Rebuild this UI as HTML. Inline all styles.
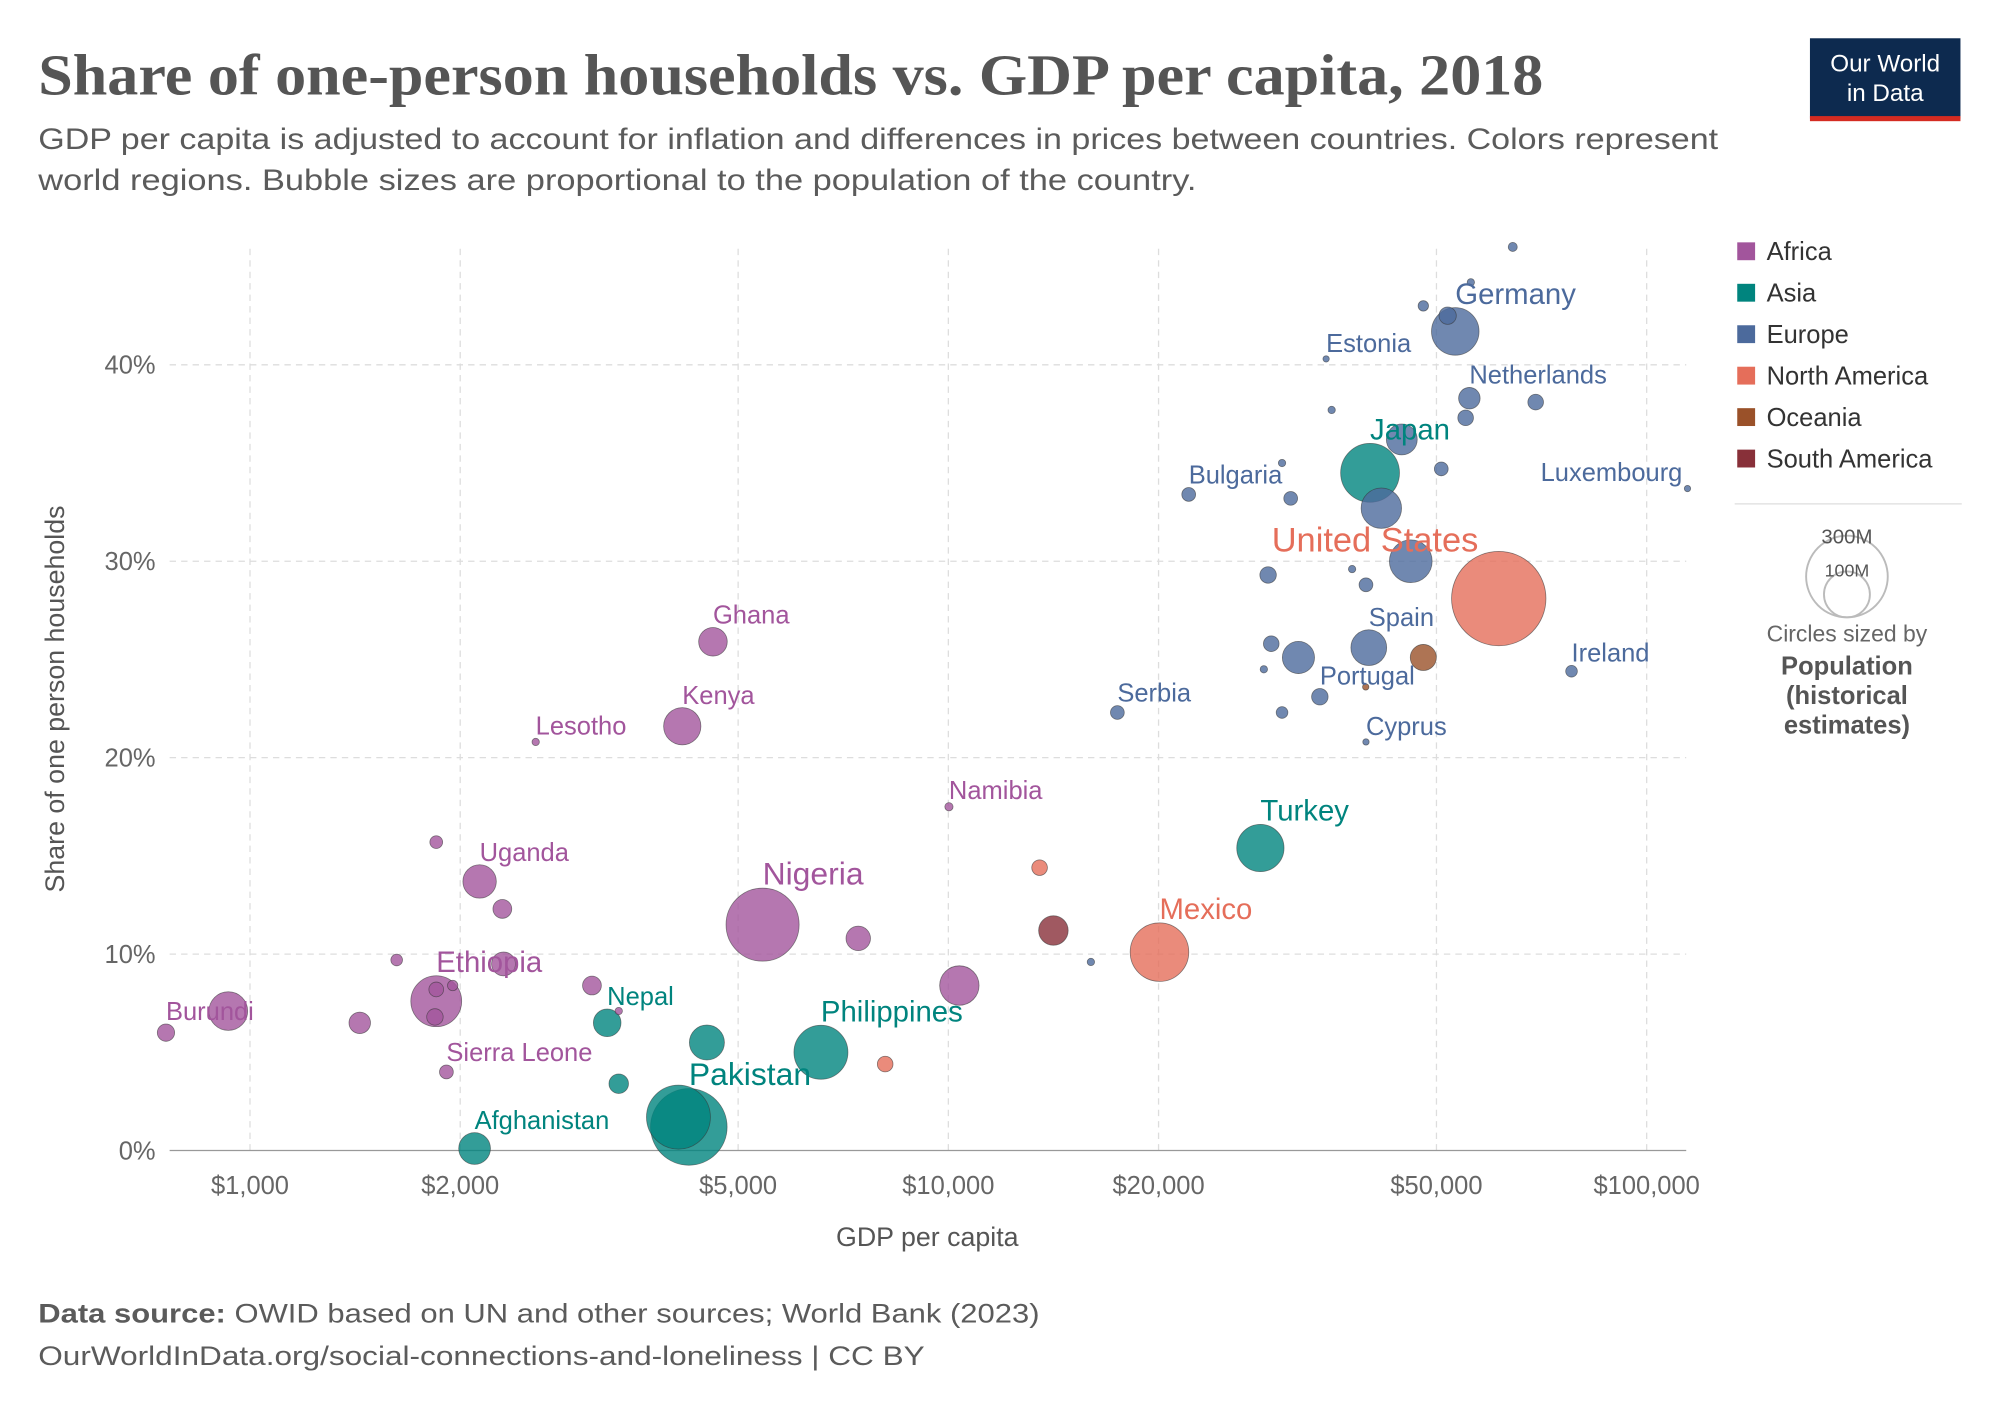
<!DOCTYPE html>
<html><head><meta charset="utf-8">
<style>
html,body{margin:0;padding:0;background:#fff;}
svg{display:block;}
text{font-family:"Liberation Sans",sans-serif;}
</style></head>
<body>
<svg id="chart" width="2000" height="1412" viewBox="0 0 1568 1107" xmlns="http://www.w3.org/2000/svg">
<text x="30" y="74" font-weight="bold" font-size="46" fill="#555" textLength="1180" lengthAdjust="spacingAndGlyphs" style="font-family:'Liberation Serif',serif">Share of one-person households vs. GDP per capita, 2018</text>
<text x="30" y="117" font-size="23" fill="#5b5b5b" textLength="1317" lengthAdjust="spacingAndGlyphs">GDP per capita is adjusted to account for inflation and differences in prices between countries. Colors represent</text>
<text x="30" y="149" font-size="23" fill="#5b5b5b" textLength="908" lengthAdjust="spacingAndGlyphs">world regions. Bubble sizes are proportional to the population of the country.</text>
<g>
<rect x="1419" y="30" width="118" height="63" fill="#0d2a4f"/>
<rect x="1419" y="91" width="118" height="4" fill="#d42b21"/>
<text x="1478" y="56" font-size="19" fill="#fff" text-anchor="middle">Our World</text>
<text x="1478" y="79" font-size="19" fill="#fff" text-anchor="middle">in Data</text>
</g>
<g id="grid"></g>
<g id="axes"></g>
<g id="marks"></g>
<g id="labels"></g>
<text x="727" y="977" font-size="21" fill="#555" text-anchor="middle">GDP per capita</text>
<text transform="translate(50,548) rotate(-90)" font-size="21" fill="#555" text-anchor="middle">Share of one person households</text>
<g id="legend"></g>
<g>
<line x1="1360" y1="395" x2="1538" y2="395" stroke="#ddd"/>
<circle cx="1448" cy="452" r="32" fill="none" stroke="#bbb" stroke-width="1.5"/>
<circle cx="1448" cy="466" r="18" fill="none" stroke="#bbb" stroke-width="1.5"/>
<text x="1448" y="426" font-size="16" fill="#555" text-anchor="middle">300M</text>
<text x="1448" y="452" font-size="14" fill="#555" text-anchor="middle">100M</text>
<text x="1448" y="503" font-size="18" fill="#666" text-anchor="middle">Circles sized by</text>
<text x="1448" y="529" font-size="20" fill="#555" font-weight="bold" text-anchor="middle">Population</text>
<text x="1448" y="552" font-size="20" fill="#555" font-weight="bold" text-anchor="middle">(historical</text>
<text x="1448" y="575" font-size="20" fill="#555" font-weight="bold" text-anchor="middle">estimates)</text>
</g>
<text x="30" y="1037" font-size="21" fill="#5b5b5b" textLength="785" lengthAdjust="spacingAndGlyphs"><tspan font-weight="bold">Data source:</tspan> OWID based on UN and other sources; World Bank (2023)</text>
<text x="30" y="1070" font-size="21" fill="#5b5b5b" textLength="695" lengthAdjust="spacingAndGlyphs">OurWorldInData.org/social-connections-and-loneliness | CC BY</text>
</svg>
<script>
const regions = ["Africa","Asia","Europe","North America","Oceania","South America"];
const regionColors = ["#a2559c","#00847e","#4c6a9c","#e56e5a","#9a5129","#883039"];
const xTicks = [1000,2000,5000,10000,20000,50000,100000];
const xTickLabels = ["$1,000","$2,000","$5,000","$10,000","$20,000","$50,000","$100,000"];
const yTicks = [0,10,20,30,40];
const yTickLabels = ["0%","10%","20%","30%","40%"];
// region index, gdp, share (%), population (millions)
const region = [
 0,0,0,0,0,0,0,0,0,0, 0,0,0,0,0,0,0,0,0,0, 0,0,
 1,1,1,1,1,1,1,1,1,
 2,2,2,2,2,2,2,2,2,2, 2,2,2,2,2,2,2,2,2,2, 2,2,2,2,2,2,2,2,2,2, 2,
 3,3,3,3,
 4,4,
 5];
const gdp = [758,931,1436,1622,1848,1848,1840,1848,1951,1911,2132,2298,2307,2565,3088,3373,4159,4602,5420,7430,10370,10020,
 2097,3247,3373,4107,4250,4511,6570,27980,40170,
 17460,22090,28700,29000,28300,30050,30050,30920,31720,34040,34750,35390,37860,39630,39630,40000,41690,44600,45940,47880,50800,51880,53200,55050,55730,56000,64300,69350,78050,114400,16000,
 61400,20060,13510,8120, 47880,39600, 14140];
const share = [6.0,7.1,6.5,9.7,15.7,7.6,6.8,8.2,8.4,4.0,13.7,12.3,9.5,20.8,8.4,7.1,21.6,25.9,11.5,10.8,8.4,17.5,
 0.1,6.5,3.4,1.7,1.2,5.5,5.0,15.4,34.5,
 22.3,33.4,29.3,25.8,24.5,35.0,22.3,33.2,25.1,23.1,40.3,37.7,29.6,28.8,20.8,25.6,32.7,36.2,30.0,43.0,34.7,42.5,41.7,37.3,38.3,44.2,46.0,38.1,24.4,33.7,9.6,
 28.1,10.1,14.4,4.4, 25.1,23.6, 11.2];
const pop = [11,55,17,5,6,95,10,8,4,7,41,13,21,2,13,2,51,30,196,22,57,2.5,
 37,28,14,150,215,45,107,82,127,
 7,7,10,9,2,2,5,7,38,10,1.3,2,2,7,1.2,47,60,35,67,4,7,11,83,9,17,2,3,9,5,0.6,2,
 327,126,9,9, 25,1, 32];
const names = ["Burundi","","","","","Ethiopia","","","","Sierra Leone","Uganda","","","Lesotho","","","Kenya","Ghana","Nigeria","","","Namibia",
 "Afghanistan","Nepal","","","Pakistan","","Philippines","Turkey","Japan",
 "Serbia","Bulgaria","","","","","","","","Portugal","Estonia","","","","Cyprus","Spain","","","","","","","Germany","","Netherlands","","","","Ireland","Luxembourg","",
 "United States","Mexico","","", "","", ""];

const NS="http://www.w3.org/2000/svg";
const X0=196, PERDEC=547.5, LEFT=133, RIGHT=1322, TOP=195;
const xs = v => X0 + PERDEC*Math.log10(v/1000);
const ys = v => 902 - 15.4*v;
const rs = p => 37*Math.sqrt(p/327);
function mk(tag, attrs, parent){const e=document.createElementNS(NS,tag);for(const k in attrs)e.setAttribute(k,attrs[k]);parent.appendChild(e);return e;}
const grid=document.getElementById('grid'), axes=document.getElementById('axes');
xTicks.forEach((t,i)=>{
  const l=mk('line',{x1:xs(t),x2:xs(t),y1:TOP,y2:902,stroke:'#ddd','stroke-dasharray':'5,4'},grid);
  
  
  const tx=mk('text',{x:xs(t),y:936,'font-size':20,fill:'#666','text-anchor':'middle'},axes);
  tx.textContent=xTickLabels[i];
  
  
});
yTicks.forEach((t,i)=>{
  if(t>0){const l=mk('line',{x1:LEFT,x2:RIGHT,y1:ys(t),y2:ys(t),stroke:'#ddd','stroke-dasharray':'5,4'},grid);
  
  }
  const tx=mk('text',{x:122,y:ys(t)+7,'font-size':20,fill:'#666','text-anchor':'end'},axes);
  tx.textContent=yTickLabels[i];
  
  
});
const ax=mk('line',{x1:LEFT,x2:RIGHT,y1:902,y2:902,stroke:'#999'},axes);



const marks=document.getElementById('marks'), labels=document.getElementById('labels');
const order=gdp.map((_,i)=>i).sort((a,b)=>pop[b]-pop[a]);
order.forEach(i=>{
  const c=mk('circle',{cx:xs(gdp[i]),cy:ys(share[i]),r:Math.max(2.5,rs(pop[i])),fill:regionColors[region[i]],'fill-opacity':0.8,stroke:'#333','stroke-width':0.6,'stroke-opacity':0.6},marks);
  
  
});
names.forEach((n,i)=>{
  if(!n) return;
  const cx=xs(gdp[i]), cy=ys(share[i]), r=Math.max(2.5,rs(pop[i]));
  let fs = pop[i]>150?25: pop[i]>60?23:20;
  if(n==='United States') fs=27;
  let x=cx, y=cy-r-3, anchor='start';
  if(n==='Luxembourg'){x=cx-4;anchor='end';y=cy-6;}
  if(n==='United States'){x=cx-178;y=cy-37;}
  const t=mk('text',{x:x,y:y,'font-size':fs,fill:regionColors[region[i]],'text-anchor':anchor},labels);
  t.textContent=n;
  
  
});
const legend=document.getElementById('legend');
regions.forEach((r,i)=>{
  const y=198+i*32.5;
  const s=mk('rect',{x:1362,y:y-8,width:14,height:14,fill:regionColors[i]},legend);
  
  
  const t=mk('text',{x:1385,y:y+6,'font-size':20,fill:'#333'},legend);
  t.textContent=r;
  
  
});
</script>
</body></html>
